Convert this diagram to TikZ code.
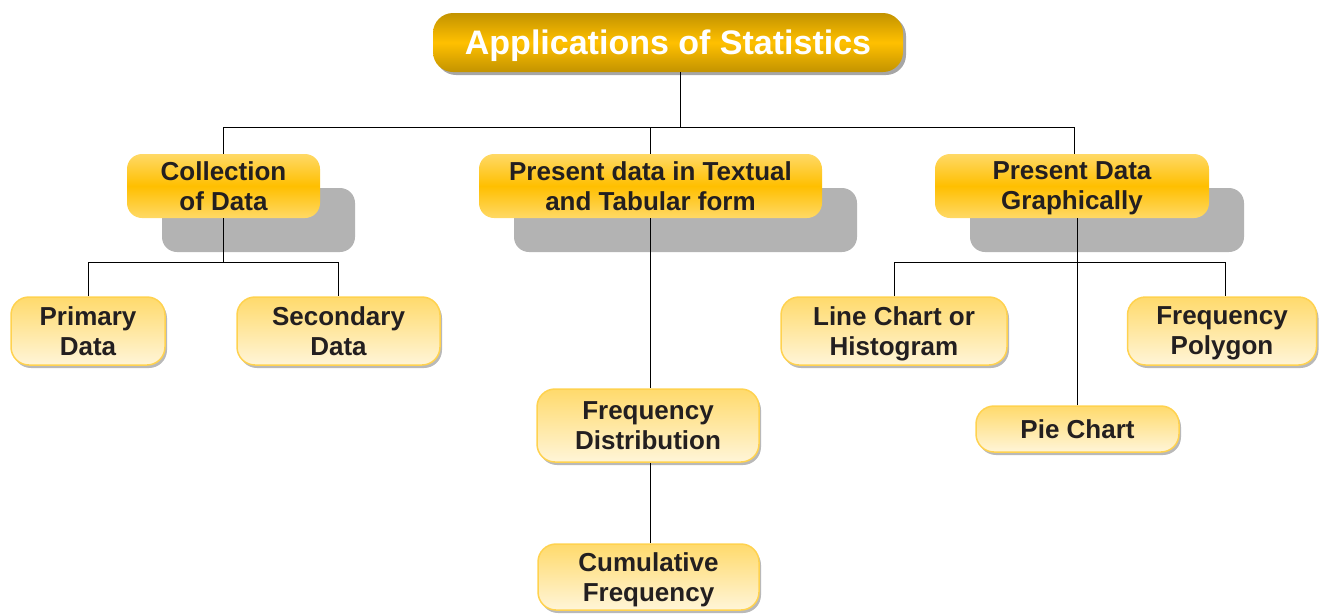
\documentclass[tikz,border=0pt]{standalone}
\usepackage{fontspec}
\setmainfont{Liberation Sans}
\usetikzlibrary{shadows}
\definecolor{titleDark}{HTML}{C39300}
\definecolor{titleLight}{HTML}{FFC000}
\definecolor{orTop}{HTML}{FFD966}
\definecolor{orMid}{HTML}{FFBF00}
\definecolor{lvTop}{HTML}{FFDA6C}
\definecolor{lvBot}{HTML}{FFF5D8}
\definecolor{lvBorder}{HTML}{FFD24F}
\definecolor{shadeGray}{HTML}{B3B3B3}
\definecolor{txt}{HTML}{231F20}
\tikzset{
  titlebox/.style={rectangle, rounded corners=20pt, inner sep=0pt,
    top color=titleDark, bottom color=titleDark, middle color=titleLight,
    drop shadow={shadow xshift=3pt, shadow yshift=-3pt, fill=gray!70, opacity=1},
    text=white, font=\bfseries\fontsize{34}{38}\selectfont},
  levtwo/.style={rectangle, rounded corners=15pt, inner sep=0pt,
    top color=orTop, bottom color=orTop, middle color=orMid,
    drop shadow={shadow xshift=35pt, shadow yshift=-34pt, fill=shadeGray, opacity=1},
    text=txt, align=center, font=\bfseries\fontsize{26}{30}\selectfont},
  levthree/.style={rectangle, rounded corners=18pt, inner sep=0pt,
    top color=lvTop, bottom color=lvBot, draw=lvBorder, line width=1.5pt,
    drop shadow={shadow xshift=2pt, shadow yshift=-3pt, fill=gray!55, opacity=1},
    text=txt, align=center, font=\bfseries\fontsize{26}{30}\selectfont},
  conn/.style={draw=black, line width=0.8pt}
}
\begin{document}
\begin{tikzpicture}[x=1pt, y=-1pt]
\useasboundingbox (0,0) rectangle (1320,614);
% title
\node[titlebox, minimum width=470pt, minimum height=59pt, text depth=0pt] (title) at (668,42.5) {Applications of Statistics};
% level 2
\node[levtwo, minimum width=193pt, minimum height=64pt] (coll) at (223.5,186) {Collection\\of Data};
\node[levtwo, minimum width=343pt, minimum height=64pt] (text) at (650.5,186) {Present data in Textual\\and Tabular form};
\node[levtwo, minimum width=274pt, minimum height=64pt] (graph) at (1072,186) {Present Data\\\smash{Graphically}};
% level 3
\node[levthree, minimum width=154pt, minimum height=68pt] (prim) at (88,331) {Primary\\Data};
\node[levthree, minimum width=203pt, minimum height=68pt] (sec) at (338.5,331) {Secondary\\Data};
\node[levthree, minimum width=222pt, minimum height=73pt] (fd) at (648,425.5) {Frequency\\Distribution};
\node[levthree, minimum width=221pt, minimum height=66pt] (cf) at (648.5,577) {Cumulative\\\smash{Frequency}};
\node[levthree, minimum width=226pt, minimum height=68pt] (lc) at (894,331) {Line Chart or\\\smash{Histogram}};
\node[levthree, minimum width=189pt, minimum height=68pt] (fp) at (1222,331) {Frequency\\\smash{Polygon}};
\node[levthree, minimum width=203pt, minimum height=46pt] (pie) at (1077.5,429) {Pie Chart};
% bus coordinates
\coordinate (busA) at (680,127);
\coordinate (busB) at (223,262);
\coordinate (busC) at (893,262);
% connectors
\draw[conn] ([xshift=12pt]title.south) -- ([xshift=12pt]title.south |- busA);
\draw[conn] (coll.north) -- (coll.north |- busA) -- ([xshift=2pt]graph.north |- busA) -- ([xshift=2pt]graph.north);
\draw[conn] (text.north) -- (text.north |- busA);
\draw[conn] (coll.south) -- (coll.south |- busB);
\draw[conn] (prim.north) |- (sec.north |- busB) -- (sec.north);
\draw[conn] (text.south) -- (text.south |- fd.north);
\draw[conn] (fd.south -| text.south) -- (text.south |- cf.north);
\draw[conn] (pie.north) -- (pie.north |- graph.south);
\draw[conn] (lc.north) |- ([xshift=3pt]fp.north |- busC) -- ([xshift=3pt]fp.north);
\end{tikzpicture}
\end{document}
